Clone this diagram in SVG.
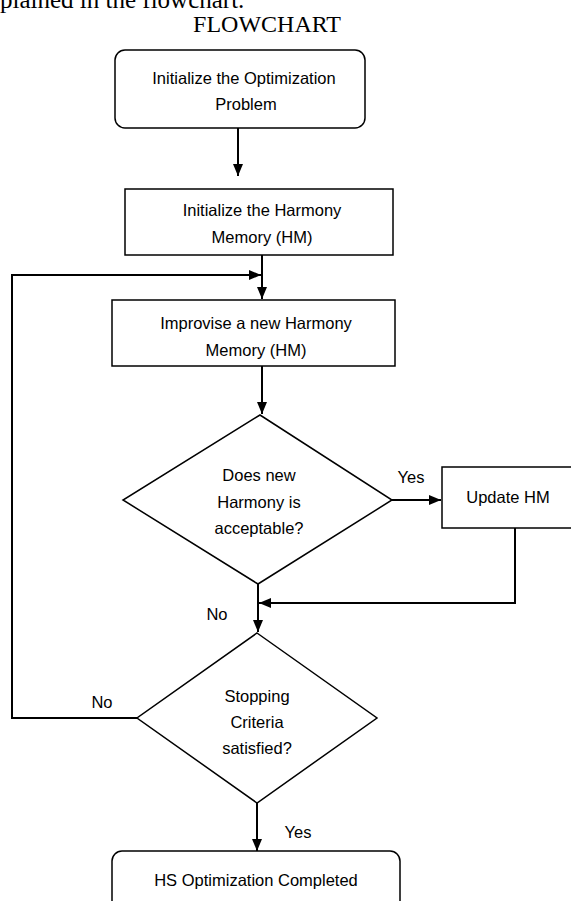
<svg xmlns="http://www.w3.org/2000/svg" width="571" height="901" viewBox="0 0 571 901">
<style>
.shape{fill:#fff;stroke:#000;stroke-width:1.5}
.lbl{font-family:"Liberation Sans",Arial,sans-serif;font-size:16.5px;fill:#000;text-anchor:middle}
.conn{fill:none;stroke:#000;stroke-width:2}
.serif{font-family:"Liberation Serif","Times New Roman",serif;fill:#000}
</style>
<defs>
<marker id="ah" markerWidth="12" markerHeight="10" refX="12" refY="5" orient="auto" markerUnits="userSpaceOnUse">
<path d="M0,0 L12,5 L0,10 z" fill="#000"/>
</marker>
</defs>
<rect width="571" height="901" fill="#fff"/>
<text class="serif" x="0" y="8" font-size="25">plained in the flowchart.</text>
<text class="serif" x="267" y="32" font-size="24" text-anchor="middle">FLOWCHART</text>

<g id="connectors">
<line class="conn" x1="238" y1="128" x2="238" y2="176" marker-end="url(#ah)"/>
<line class="conn" x1="262" y1="255" x2="262" y2="299" marker-end="url(#ah)"/>
<polyline class="conn" points="137,718 12,718 12,275 261,275" marker-end="url(#ah)"/>
<line class="conn" x1="262" y1="366" x2="262" y2="414" marker-end="url(#ah)"/>
<line class="conn" x1="392" y1="500" x2="441" y2="500" marker-end="url(#ah)"/>
<polyline class="conn" points="515,528 515,603 259,603" marker-end="url(#ah)"/>
<line class="conn" x1="258" y1="584" x2="258" y2="632" marker-end="url(#ah)"/>
<line class="conn" x1="257" y1="803" x2="257" y2="851" marker-end="url(#ah)"/>
<text class="lbl" x="411" y="483">Yes</text>
<text class="lbl" x="217" y="620">No</text>
<text class="lbl" x="102" y="708">No</text>
<text class="lbl" x="298" y="838">Yes</text>
</g>

<g id="init-problem">
<rect class="shape" x="115" y="50" width="250" height="78" rx="10"/>
<text class="lbl" x="244" y="84">Initialize the Optimization</text>
<text class="lbl" x="246" y="110">Problem</text>
</g>

<g id="init-hm">
<rect class="shape" x="125" y="189" width="268" height="66"/>
<text class="lbl" x="262" y="216">Initialize the Harmony</text>
<text class="lbl" x="262" y="243">Memory (HM)</text>
</g>

<g id="improvise">
<rect class="shape" x="112" y="300" width="283" height="66"/>
<text class="lbl" x="256" y="329">Improvise a new Harmony</text>
<text class="lbl" x="256" y="356">Memory (HM)</text>
</g>

<g id="decision-accept">
<polygon class="shape" points="260,415 392,500 258,584 123,500"/>
<text class="lbl" x="259" y="481">Does new</text>
<text class="lbl" x="259" y="508">Harmony is</text>
<text class="lbl" x="259" y="534">acceptable?</text>
</g>

<g id="update-hm">
<rect class="shape" x="442" y="467" width="140" height="61"/>
<text class="lbl" x="508" y="503">Update HM</text>
</g>

<g id="decision-stop">
<polygon class="shape" points="257,633 377,718 257,803 137,718"/>
<text class="lbl" x="257" y="702">Stopping</text>
<text class="lbl" x="257" y="728">Criteria</text>
<text class="lbl" x="257" y="754">satisfied?</text>
</g>

<g id="completed">
<rect class="shape" x="112" y="851" width="288" height="70" rx="10"/>
<text class="lbl" x="256" y="886">HS Optimization Completed</text>
</g>
</svg>
